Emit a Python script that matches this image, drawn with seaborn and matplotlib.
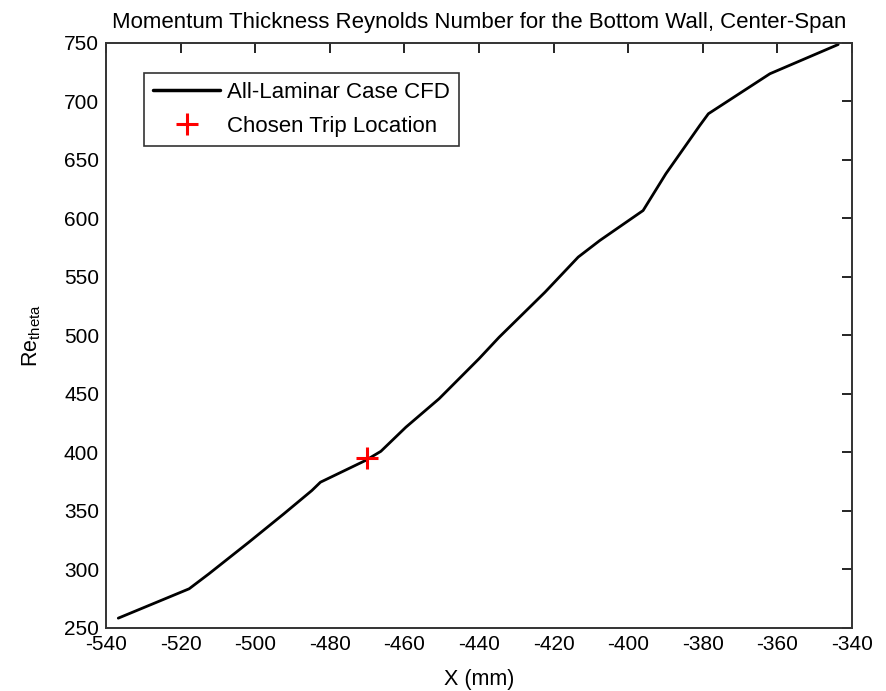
import matplotlib
matplotlib.use("Agg")
import matplotlib.pyplot as plt
from matplotlib.lines import Line2D
import seaborn as sns
import pandas as pd

# Streamwise position along the bottom wall (mm) and momentum-thickness Reynolds number
x_mm = [-536.7, -517.7, -512.4, -501.7, -492.3, -484.8, -482.5, -470.4, -466.3,
        -459.6, -450.7, -440.0, -434.6, -422.3, -413.4, -407.6, -396.0, -389.9,
        -380.8, -378.5, -362.0, -343.7]
re_theta = [258.4, 283.5, 296.3, 323.3, 347.6, 367.5, 374.6, 393.2, 401.0,
            421.6, 445.9, 480.1, 498.5, 537.0, 567.0, 581.2, 606.8, 638.2,
            679.5, 689.5, 723.7, 748.7]

# Chosen trip location
trip_x = [-470.0]
trip_re = [395.0]

x_ticks = [-540, -520, -500, -480, -460, -440, -420, -400, -380, -360, -340]
y_ticks = [250, 300, 350, 400, 450, 500, 550, 600, 650, 700, 750]

sns.set_style("white")
plt.rcParams["font.family"] = ["Liberation Sans", "DejaVu Sans"]
plt.rcParams["mathtext.fontset"] = "custom"
plt.rcParams["mathtext.rm"] = "Liberation Sans"
plt.rcParams["mathtext.it"] = "Liberation Sans"
plt.rcParams["text.color"] = "black"
plt.rcParams["axes.labelcolor"] = "black"

fs = 15

fig = plt.figure(figsize=(8.86, 6.91), dpi=100)
ax = fig.add_axes([0.1196, 0.0912, 0.8420, 0.8466])

curve = pd.DataFrame({"x": x_mm, "re": re_theta})
sns.lineplot(data=curve, x="x", y="re", sort=False, estimator=None,
             color="black", linewidth=2.0, ax=ax, legend=False)

trip = pd.DataFrame({"x": trip_x, "re": trip_re})
sns.scatterplot(data=trip, x="x", y="re", marker="+", s=260, color="red",
                linewidth=2.2, ax=ax, legend=False, zorder=5)

ax.set_xlim(-540, -340)
ax.set_ylim(250, 750)
ax.set_xticks(x_ticks)
ax.set_yticks(y_ticks)
ax.set_xticklabels([str(v) for v in x_ticks])
ax.set_yticklabels([str(v) for v in y_ticks])
ax.tick_params(direction="in", length=7, width=1.2, labelsize=fs,
               top=True, right=True, pad=5, colors="black")
for side in ["left", "right", "top", "bottom"]:
    ax.spines[side].set_visible(True)
    ax.spines[side].set_color("#333333")
    ax.spines[side].set_linewidth(1.4)

ax.set_title("Momentum Thickness Reynolds Number for the Bottom Wall, Center-Span",
             fontsize=16, pad=11)
ax.set_xlabel("X (mm)", fontsize=15.5, labelpad=11)
ax.set_ylabel(r"Re$_{\mathrm{theta}}$", fontsize=15.5, labelpad=15)

handles = [
    Line2D([], [], color="black", linewidth=2.5),
    Line2D([], [], color="red", marker="+", linestyle="none",
           markersize=16, markeredgewidth=2.2),
]
leg = ax.legend(handles, ["All-Laminar Case CFD", "Chosen Trip Location"],
                loc="upper left", bbox_to_anchor=(0.051, 0.949),
                borderaxespad=0, fontsize=16, frameon=True, fancybox=False,
                handlelength=3.0, handletextpad=0.3, labelspacing=0.58,
                borderpad=0.42)
leg.get_frame().set_edgecolor("black")
leg.get_frame().set_linewidth(1.2)

fig.savefig("out.png", dpi=100, facecolor="white")
